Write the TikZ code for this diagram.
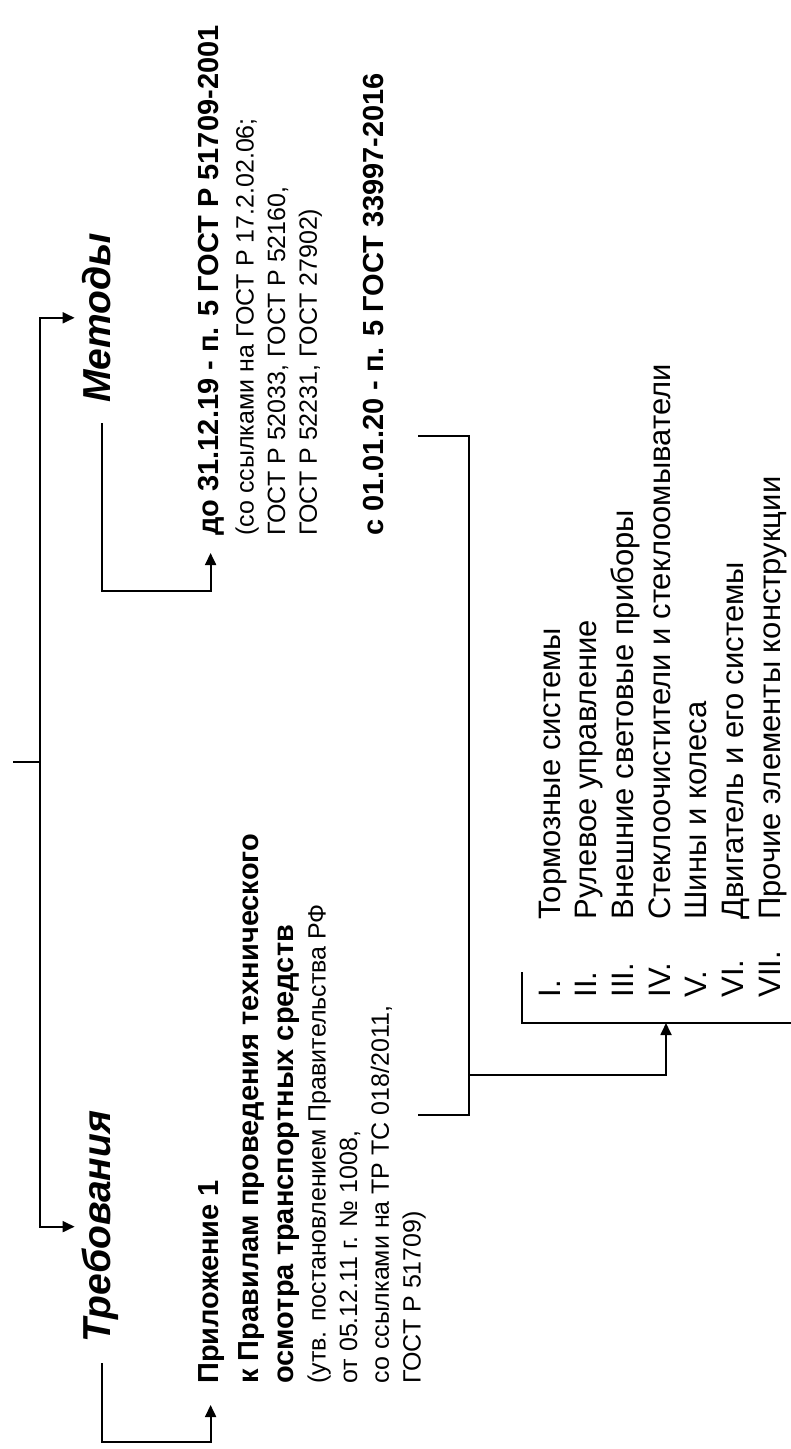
\documentclass[tikz,border=0pt]{standalone}
\usepackage{fontspec}
\setmainfont{Liberation Sans}
\usetikzlibrary{arrows.meta}

\begin{document}
\begin{tikzpicture}[
    x=0.5pt, y=-0.5pt,
    >={Triangle[length=6pt, width=5.5pt]},
    link/.style={draw, line width=0.9pt},
    arr/.style={link, ->},
    tnode/.style={rotate=90, inner sep=0pt, anchor=base west,
                  font=\fontsize{19.5}{22}\selectfont\bfseries\itshape,
                  text height=14pt, text depth=5.8pt},
    bnode/.style={rotate=90, inner sep=0pt, align=left,
                  font=\fontsize{14.5}{17.5}\selectfont\bfseries},
    oneb/.style={anchor=base west, text height=10.4pt, text depth=3pt},
    snode/.style={rotate=90, inner sep=0pt, align=left, anchor=north west,
                  font=\fontsize{12.5}{15.85}\selectfont},
    lnode/.style={rotate=90, inner sep=0pt, anchor=base west,
                  font=\fontsize{15.5}{18}\selectfont}
  ]
  \useasboundingbox (0,0) rectangle (791,1449);

  % root and the two branches
  \coordinate (root) at (13,762);
  \coordinate (fork) at (40,762);
  \node[tnode] (metody) at (110,403) {Методы};
  \node[tnode] (treb) at (110,1343) {Требования};
  \draw[link] (root) -- (fork);
  \draw[arr, shorten >=3.5pt] (fork) |- (metody.north);
  \draw[arr, shorten >=3.5pt] (fork) |- (treb.north);

  % methods
  \node[bnode, oneb] (do1) at (218,536) {до 31.12.19 - п. 5 ГОСТ Р 51709-2001};
  \node[snode] (do2) at (235,536)
    {(со ссылками на ГОСТ Р 17.2.02.06;\\ГОСТ Р 52033, ГОСТ Р 52160,\\ГОСТ Р 52231, ГОСТ 27902)};
  \node[bnode, oneb] (s01) at (383,536) {с 01.01.20 - п. 5 ГОСТ 33997-2016};
  \draw[arr, shorten <=10pt, shorten >=8.5pt] (metody.west) -- ++(0,188) -| (do1.west);

  % requirements
  \node[bnode, oneb] (pril) at (218,1384) {Приложение 1};
  \node[bnode, anchor=north west] (pravila) at (238,1384)
    {к Правилам проведения технического\\осмотра транспортных средств};
  \node[snode] (utv) at (307,1384)
    {(утв. постановлением Правительства РФ\\от 05.12.11 г. № 1008,\\со ссылками на ТР ТС 018/2011,\\ГОСТ Р 51709)};
  \draw[arr, shorten <=10pt, shorten >=10.5pt] (treb.west) -- ++(0,99) -| (pril.west);

  % bracket over both branches
  \coordinate (btop) at (418,436);
  \coordinate (bbot) at (418,1115);
  \coordinate (bmid) at (469,1075);
  \draw[link] (btop) -- ++(51,0) |- (bbot);

  % list of units
  \coordinate (ltop) at (522,972);
  \coordinate (lend) at (791,1023);
  \coordinate (lhit) at (666,1023);
  \draw[link] (ltop) |- (lend);
  \draw[arr] (bmid) -| (lhit);
  \foreach \num/\txt [count=\i from 0] in {I./Тормозные системы,
      II./Рулевое управление, III./Внешние световые приборы,
      IV./Стеклоочистители и стеклоомыватели, V./Шины и колеса,
      VI./Двигатель и его системы, VII./Прочие элементы конструкции} {
    \node[lnode] (num\i) at (560+36.67*\i,998) {\num};
    \node[lnode] (itm\i) at (560+36.67*\i,920) {\txt};
  }
\end{tikzpicture}
\end{document}
